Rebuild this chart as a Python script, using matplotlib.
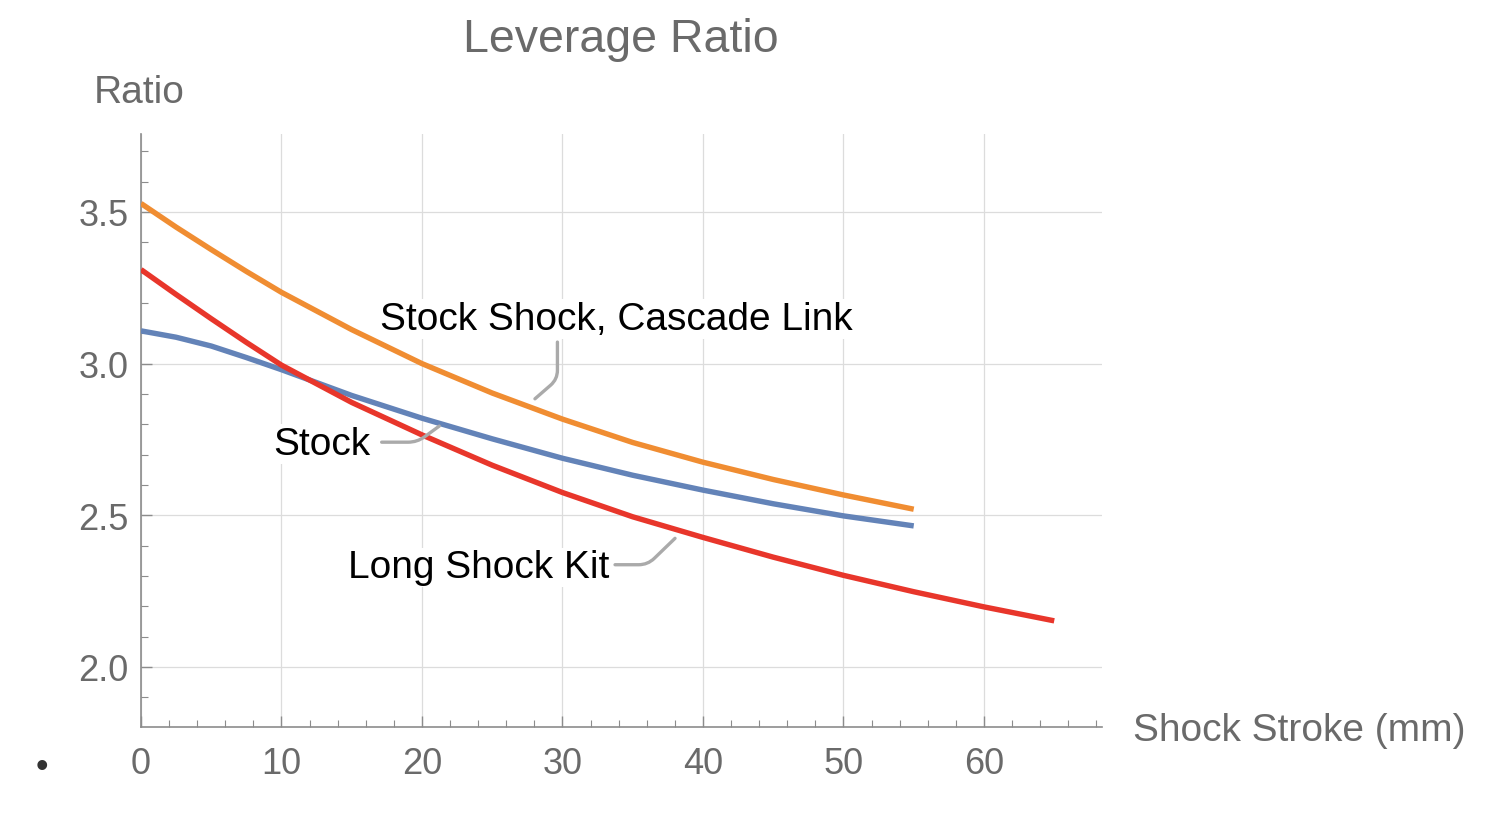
import numpy as np
import matplotlib
matplotlib.use("Agg")
import matplotlib.pyplot as plt
from matplotlib.ticker import MultipleLocator, FormatStrFormatter

plt.rcParams['font.family'] = ['Liberation Sans', 'DejaVu Sans']

# readings, shock stroke in mm
stroke = [0, 2.5, 5, 7.5, 10, 15, 20, 25, 30, 35, 40, 45, 50, 55]
stroke_long = [0, 2.5, 5, 7.5, 10, 15, 20, 25, 30, 35, 40, 45, 50, 55, 60, 65]

cascade = [3.528, 3.450, 3.376, 3.304, 3.235, 3.112, 3.000, 2.903, 2.817, 2.740,
           2.675, 2.618, 2.567, 2.520]
stock = [3.108, 3.087, 3.058, 3.020, 2.980, 2.895, 2.820, 2.752, 2.688, 2.632,
         2.583, 2.538, 2.498, 2.465]
long_kit = [3.310, 3.228, 3.148, 3.070, 2.995, 2.872, 2.765, 2.665, 2.575, 2.495,
            2.427, 2.362, 2.302, 2.248, 2.198, 2.152]

labels = ["Stock Shock, Cascade Link", "Stock", "Long Shock Kit"]
colors = ["#F08D32", "#6383B8", "#E8362B"]

grey = "#6a6a6a"
axis_grey = "#8c8c8c"


def main():
    fig = plt.figure(figsize=(15.12, 8.28), dpi=100)
    ax = fig.add_axes([0.09325, 0.12077, 0.63558, 0.71618])

    ax.plot(stroke, cascade, color=colors[0], lw=3.9, solid_capstyle='butt',
            solid_joinstyle='round', zorder=3)
    ax.plot(stroke, stock, color=colors[1], lw=3.9, solid_capstyle='butt',
            solid_joinstyle='round', zorder=3)
    ax.plot(stroke_long, long_kit, color=colors[2], lw=3.9, solid_capstyle='butt',
            solid_joinstyle='round', zorder=3)

    ax.set_xlim(0, 68.4)
    ax.set_ylim(1.802, 3.757)

    ax.xaxis.set_major_locator(MultipleLocator(10))
    ax.xaxis.set_minor_locator(MultipleLocator(2))
    ax.yaxis.set_major_locator(MultipleLocator(0.5))
    ax.yaxis.set_minor_locator(MultipleLocator(0.1))
    ax.yaxis.set_major_formatter(FormatStrFormatter('%.1f'))
    ax.set_xticks([0, 10, 20, 30, 40, 50, 60])

    ax.grid(True, which='major', color='#dcdcdc', lw=0.9, zorder=0)
    ax.set_axisbelow(True)

    for s in ['top', 'right']:
        ax.spines[s].set_visible(False)
    for s in ['left', 'bottom']:
        ax.spines[s].set_color(axis_grey)
        ax.spines[s].set_linewidth(1.2)

    ax.tick_params(axis='both', which='major', direction='in', length=8, width=1,
                   color=axis_grey, labelsize=26, labelcolor=grey)
    ax.tick_params(axis='both', which='minor', direction='in', length=5, width=0.8,
                   color=axis_grey)
    ax.tick_params(axis='x', which='major', pad=13.5)
    ax.tick_params(axis='y', which='major', pad=9)

    # curve labels with leader lines
    halo = dict(facecolor='white', edgecolor='none', pad=1)
    ax.text(17.01, 3.114, labels[0], fontsize=28, color='black', ha='left',
            va='baseline', bbox=halo, zorder=4)
    ax.text(16.34, 2.702, labels[1], fontsize=28, color='black', ha='right',
            va='baseline', bbox=halo, zorder=4)
    ax.text(14.71, 2.296, labels[2], fontsize=28, color='black', ha='left',
            va='baseline', bbox=halo, zorder=4)

    lead = dict(arrowstyle='-', color='#aaaaaa', lw=2.4, shrinkA=0, shrinkB=0)
    ax.annotate('', xy=(28.04, 2.884), xytext=(29.64, 3.071),
                arrowprops=dict(lead, connectionstyle='angle,angleA=90,angleB=41,rad=9'),
                zorder=5)
    ax.annotate('', xy=(21.23, 2.794), xytext=(17.13, 2.741),
                arrowprops=dict(lead, connectionstyle='angle,angleA=0,angleB=36,rad=9'),
                zorder=5)
    ax.annotate('', xy=(38.01, 2.424), xytext=(33.74, 2.337),
                arrowprops=dict(lead, connectionstyle='angle,angleA=0,angleB=44,rad=9'),
                zorder=5)

    fig.text(0.4107, 0.9368, "Leverage Ratio", fontsize=33.5, color=grey,
             ha='center', va='baseline')
    fig.text(0.0622, 0.8756, "Ratio", fontsize=28, color=grey,
             ha='left', va='baseline')
    fig.text(1133 / 1512, 1 - 741 / 828, "Shock Stroke (mm)", fontsize=28,
             color=grey, ha='left', va='baseline')
    fig.text(42 / 1512, 1 - 768 / 828, "\u2022", fontsize=26, color='#333333',
             ha='center', va='center')

    fig.savefig("out.png", dpi=100, facecolor='white')


main()
